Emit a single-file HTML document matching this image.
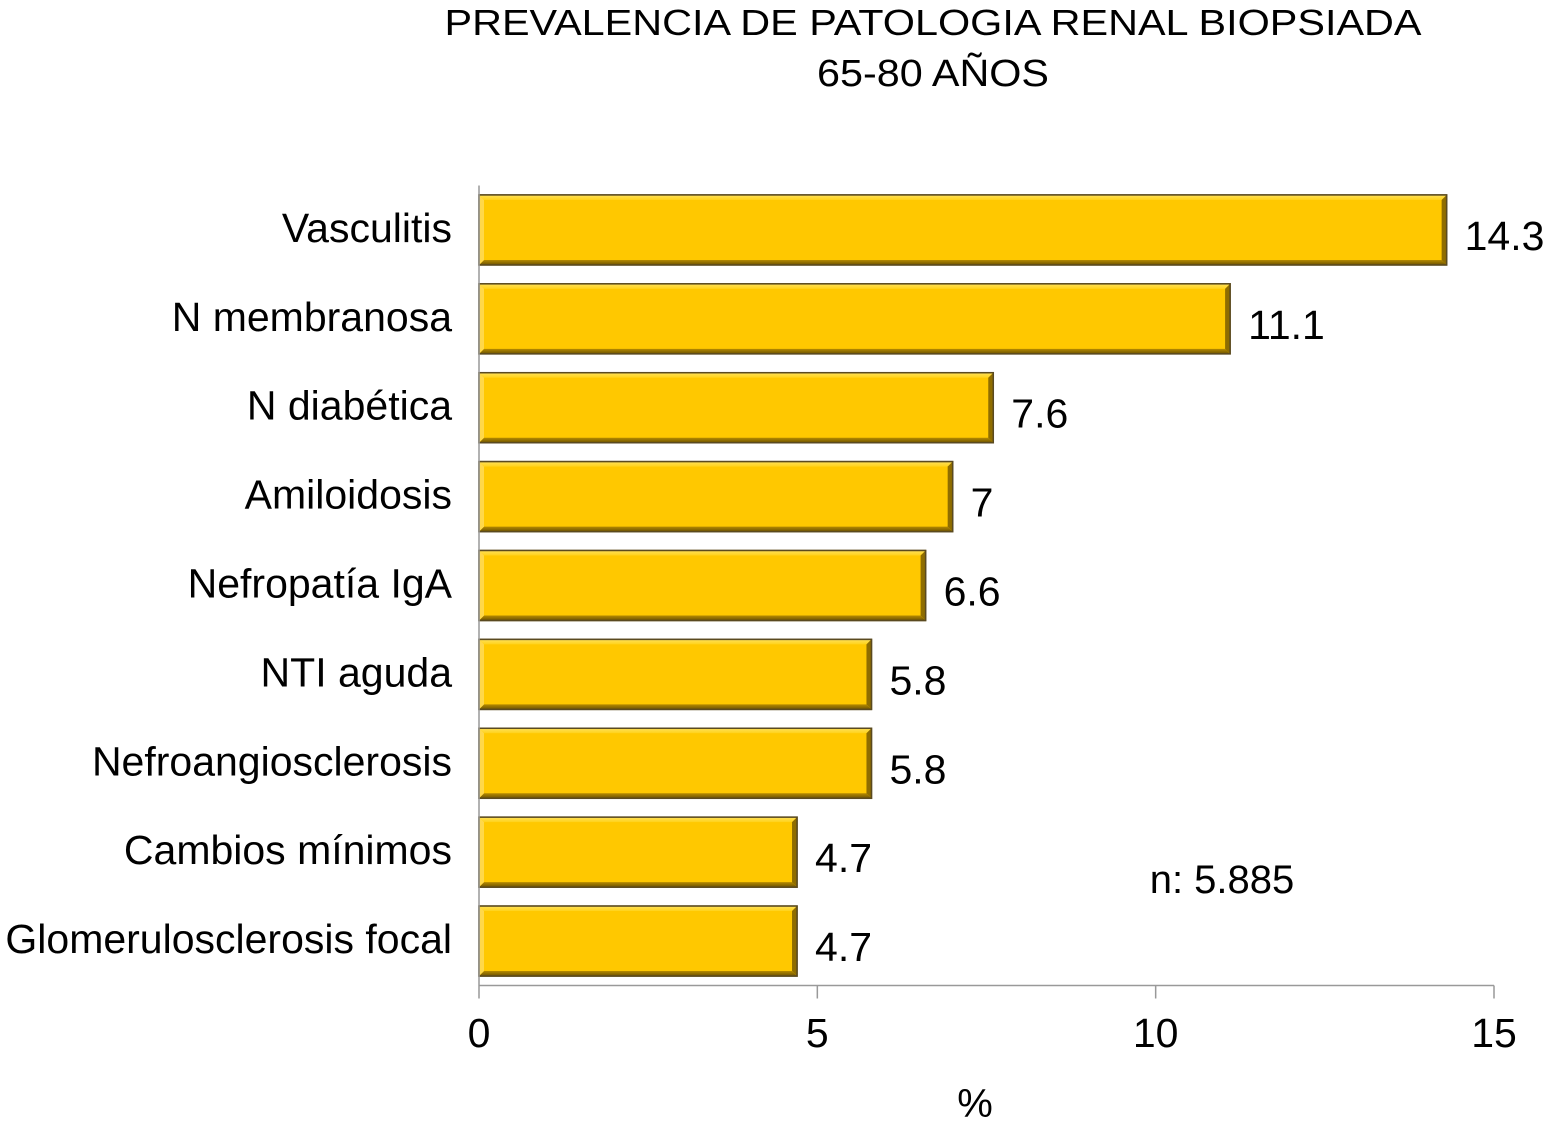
<!DOCTYPE html>
<html><head><meta charset="utf-8"><style>
html,body{margin:0;padding:0;background:#fff;}
svg text{font-family:"Liberation Sans",Arial,sans-serif;fill:#000;}
</style></head><body>
<svg id="chart" width="1545" height="1126" xmlns="http://www.w3.org/2000/svg">
<defs>
<linearGradient id="gTop" x1="0" y1="0" x2="0" y2="1"><stop offset="0" stop-color="#ffe15a"/><stop offset="1" stop-color="#ffd21a"/></linearGradient>
<linearGradient id="gBot" x1="0" y1="0" x2="0" y2="1"><stop offset="0" stop-color="#b58a00"/><stop offset="1" stop-color="#6e5300"/></linearGradient>
</defs>
<text x="933" y="35" font-size="36" textLength="977" lengthAdjust="spacingAndGlyphs" text-anchor="middle">PREVALENCIA DE PATOLOGIA RENAL BIOPSIADA</text>
<text x="933" y="86" font-size="38" textLength="232" lengthAdjust="spacingAndGlyphs" text-anchor="middle">65-80 AÑOS</text>
<text x="1222" y="893" font-size="40" text-anchor="middle">n: 5.885</text>
<text x="975" y="1117" font-size="40" text-anchor="middle">%</text>
<g id="bars"></g>
<g id="axis"></g>
</svg>
<script>
const categories=["Vasculitis","N membranosa","N diabética","Amiloidosis","Nefropatía IgA","NTI aguda","Nefroangiosclerosis","Cambios mínimos","Glomerulosclerosis focal"];
const values=[14.3,11.1,7.6,7,6.6,5.8,5.8,4.7,4.7];
const valueLabels=["14.3","11.1","7.6","7","6.6","5.8","5.8","4.7","4.7"];
const ticks=[0,5,10,15];
const NS="http://www.w3.org/2000/svg";
const x0=479,x1=1494,plotTop=185.5,plotBot=985.5,xMax=15;
const xs=v=>x0+(x1-x0)*v/xMax;
const band=(plotBot-plotTop)/categories.length;
const yc=i=>plotTop+band*(i+0.5);
const bh=70;
function mk(tag,attrs,parent){const e=document.createElementNS(NS,tag);for(const k in attrs)e.setAttribute(k,attrs[k]);parent.appendChild(e);return e;}
const bars=document.getElementById('bars'),axis=document.getElementById('axis');
categories.forEach((c,i)=>{
  const y=yc(i)-bh/2,w=xs(values[i])-x0,b=5;
  const g=mk('g',{},bars);
  
  
  mk('rect',{x:x0,y:y,width:w,height:bh,fill:'#ffc800',stroke:'#6e5a20','stroke-width':1.5},g);
  mk('polygon',{points:`${x0},${y} ${x0+w},${y} ${x0+w-b},${y+b} ${x0+b},${y+b}`,fill:'url(#gTop)'},g);
  mk('polygon',{points:`${x0},${y+bh} ${x0+w},${y+bh} ${x0+w-b},${y+bh-b} ${x0+b},${y+bh-b}`,fill:'url(#gBot)'},g);
  mk('polygon',{points:`${x0+w},${y} ${x0+w},${y+bh} ${x0+w-b},${y+bh-b} ${x0+w-b},${y+b}`,fill:'#8f6d00'},g);
  mk('polygon',{points:`${x0},${y} ${x0},${y+bh} ${x0+b},${y+bh-b} ${x0+b},${y+b}`,fill:'#ffd84a'},g);
  mk('rect',{x:x0,y:y,width:w,height:bh,fill:'none',stroke:'#5a4a20','stroke-width':1.5},g);
  const lt=mk('text',{x:452,y:yc(i)+12,'font-size':41,'text-anchor':'end'},bars);
  lt.textContent=c;
  
  
  const vt=mk('text',{x:xs(values[i])+18,y:yc(i)+20,'font-size':41},bars);
  vt.textContent=valueLabels[i];
  
  
});
const yl=mk('line',{x1:x0,y1:plotTop,x2:x0,y2:plotBot,stroke:'#999','stroke-width':1.5},axis);


const xl=mk('line',{x1:x0,y1:plotBot,x2:x1,y2:plotBot,stroke:'#999','stroke-width':1.5},axis);


ticks.forEach(t=>{
  mk('line',{x1:xs(t),y1:plotBot,x2:xs(t),y2:plotBot+13,stroke:'#999','stroke-width':1.5},axis);
  const tt=mk('text',{x:xs(t),y:1047,'font-size':41,'text-anchor':'middle'},axis);
  tt.textContent=t;
  
  
});
</script>
</body></html>
